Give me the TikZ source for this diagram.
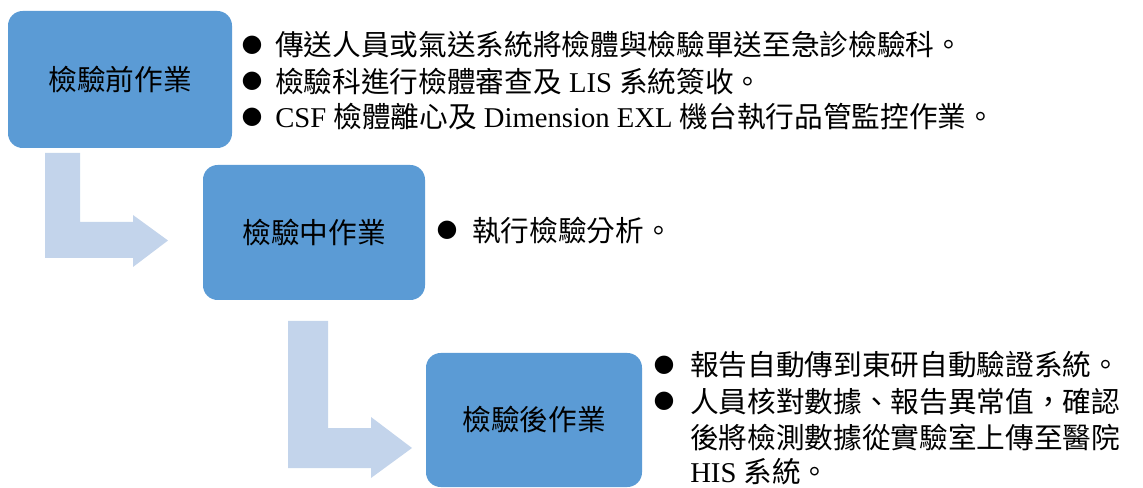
\documentclass[tikz,border=0pt]{standalone}
\usepackage{fontspec}
\setmainfont{Liberation Serif}
\newfontfamily\cjk{Noto Sans CJK TC}
\newfontfamily\dejavu{DejaVu Sans}
\definecolor{boxblue}{HTML}{5B9BD5}
\definecolor{arrowblue}{HTML}{C3D4EB}
\tikzset{
  stagebox/.style={fill=boxblue, rounded corners=11pt, minimum width=#1, inner sep=0pt},
  stagelabel/.style={font=\cjk\fontsize{21.5pt}{24pt}\selectfont, text=black},
  bulletdot/.style={font=\dejavu\fontsize{18pt}{18pt}\selectfont, anchor=center, inner sep=0pt},
  itemtext/.style={font=\fontsize{21.5pt}{24pt}\selectfont, anchor=base west, inner sep=0pt},
}
\begin{document}
\begin{tikzpicture}[x=0.75pt, y=-0.75pt]
\useasboundingbox (0,0) rectangle (1143,488);
% block arrows
\fill[arrowblue] (45,153) -- (80,153) -- (80,222) -- (133,222) -- (133,215) -- (168,240.5) -- (133,267) -- (133,258) -- (45,258) -- cycle;
\fill[arrowblue] (288,321) -- (328,321) -- (328,428) -- (371,428) -- (371,417) -- (412,448) -- (371,478) -- (371,468) -- (288,468) -- cycle;
% boxes
\node[stagebox=168pt, minimum height=102.75pt] (s1) at (120,79.5) {};
\node[stagelabel] (l1) at (s1.center) {檢驗前作業};
\node[stagebox=166.5pt, minimum height=101.25pt] (s2) at (314,232.5) {};
\node[stagelabel] (l2) at (s2.center) {檢驗中作業};
\node[stagebox=162pt, minimum height=100.5pt] (s3) at (534,420) {};
\node[stagelabel] (l3) at (s3.center) {檢驗後作業};
% box 1 items
\node[bulletdot] (d11) at (252,45) {●};
\node[itemtext] (t11) at (275,56) {\cjk 傳送人員或氣送系統將檢體與檢驗單送至急診檢驗科。};
\node[bulletdot] (d12) at (252,81) {●};
\node[itemtext] (t12) at (275,92.5) {{\cjk 檢驗科進行檢體審查及} LIS {\cjk 系統簽收。}};
\node[bulletdot] (d13) at (252,117) {●};
\node[itemtext] (t13) at (275,128) {CSF {\cjk 檢體離心及} Dimension EXL {\cjk 機台執行品管監控作業。}};
% box 2 item
\node[bulletdot] (d21) at (447,230) {●};
\node[itemtext] (t21) at (472,242) {\cjk 執行檢驗分析。};
% box 3 items
\node[bulletdot] (d31) at (664,365) {●};
\node[itemtext] (t31) at (690,376) {\cjk 報告自動傳到東研自動驗證系統。};
\node[bulletdot] (d32) at (664,401) {●};
\node[itemtext] (t32) at (690,412) {\cjk 人員核對數據、報告異常值，確認};
\node[itemtext] (t33) at (690,448) {\cjk 後將檢測數據從實驗室上傳至醫院};
\node[itemtext] (t34) at (690,482) {HIS {\cjk 系統。}};
\end{tikzpicture}
\end{document}
